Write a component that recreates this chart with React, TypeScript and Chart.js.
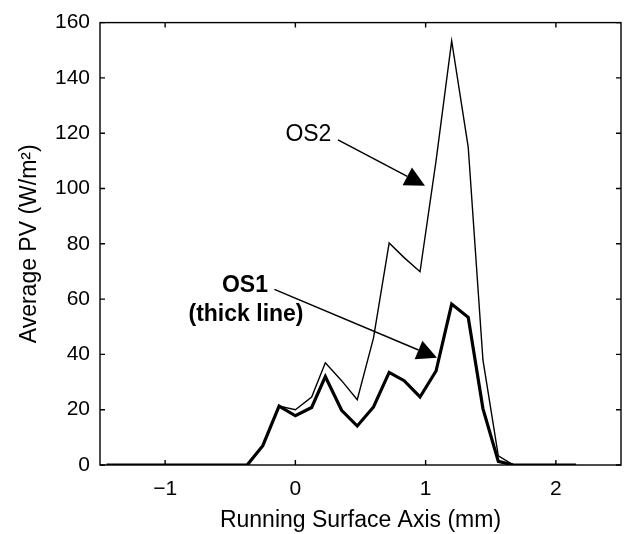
import React, { useEffect, useRef } from "react";
import { Chart, registerables } from "chart.js";

Chart.register(...registerables);

// Running surface axis positions (mm)
const xPositions = [-1.45, -0.37, -0.25, -0.125, 0.0, 0.125, 0.23, 0.355, 0.475, 0.6, 0.72, 0.835, 0.957, 1.08, 1.2, 1.327, 1.44, 1.558, 1.675, 2.155];
// OS1 (thick line) average PV (W/m^2)
const os1Values = [0, 0, 7, 21.3, 17.8, 20.8, 32, 19.8, 14.1, 21, 33.5, 30.5, 24.6, 34, 58.2, 53.4, 20.4, 1.3, 0, 0];
// OS2 (thin line) average PV (W/m^2)
const os2Values = [0, 0, 7, 21.3, 20, 24.6, 37, 30.5, 23.6, 46, 80.3, 75, 69.9, 110, 153.4, 115, 38, 3.3, 0, 0];

const xTickValues = [-1, 0, 1, 2];
const yTickValues = [0, 20, 40, 60, 80, 100, 120, 140, 160];

const xTitle = "Running Surface Axis (mm)";
const yTitle = "Average PV (W/m²)";

const FONT = "'Liberation Sans', Arial, Helvetica, sans-serif";

const frameAndAnnotations = {
  id: "frameAndAnnotations",
  afterDatasetsDraw(chart: any) {
    const { ctx, chartArea: a, scales } = chart;
    const x = scales.x;
    const y = scales.y;
    ctx.save();
    ctx.strokeStyle = "#000";
    ctx.fillStyle = "#000";
    ctx.lineWidth = 1.4;
    ctx.strokeRect(a.left, a.top, a.right - a.left, a.bottom - a.top);

    const tl = 5;
    ctx.beginPath();
    xTickValues.forEach((v) => {
      const px = x.getPixelForValue(v);
      ctx.moveTo(px, a.bottom);
      ctx.lineTo(px, a.bottom - tl);
      ctx.moveTo(px, a.top);
      ctx.lineTo(px, a.top + tl);
    });
    yTickValues.forEach((v) => {
      const py = y.getPixelForValue(v);
      ctx.moveTo(a.left, py);
      ctx.lineTo(a.left + tl, py);
      ctx.moveTo(a.right, py);
      ctx.lineTo(a.right - tl, py);
    });
    ctx.stroke();

    const arrow = (x0: number, y0: number, x1: number, y1: number) => {
      const sx = x.getPixelForValue(x0);
      const sy = y.getPixelForValue(y0);
      const tx = x.getPixelForValue(x1);
      const ty = y.getPixelForValue(y1);
      const dx = tx - sx;
      const dy = ty - sy;
      const len = Math.hypot(dx, dy);
      const ux = dx / len;
      const uy = dy / len;
      const L = 20;
      const W = 10;
      const bx = tx - ux * L;
      const by = ty - uy * L;
      ctx.lineWidth = 1.5;
      ctx.beginPath();
      ctx.moveTo(sx, sy);
      ctx.lineTo(bx, by);
      ctx.stroke();
      ctx.beginPath();
      ctx.moveTo(tx, ty);
      ctx.lineTo(bx - uy * W, by + ux * W);
      ctx.lineTo(bx + uy * W, by - ux * W);
      ctx.closePath();
      ctx.fill();
    };

    const label = (text: string, vx: number, vy: number, bold: boolean) => {
      ctx.font = `${bold ? "bold " : ""}23px ${FONT}`;
      ctx.textAlign = "center";
      ctx.textBaseline = "middle";
      ctx.fillText(text, x.getPixelForValue(vx), y.getPixelForValue(vy));
    };

    label("OS2", 0.1, 119.3, false);
    arrow(0.327, 117.6, 0.995, 101);
    label("OS1", -0.387, 64.7, true);
    label("(thick line)", -0.379, 54.5, true);
    arrow(-0.161, 63.5, 1.087, 38.8);

    ctx.restore();
  },
};

export default function App() {
  const canvasRef = useRef<HTMLCanvasElement | null>(null);

  useEffect(() => {
    const canvas = canvasRef.current;
    if (!canvas) return;
    const chart = new Chart(canvas, {
      type: "line",
      data: {
        datasets: [
          {
            label: "OS2",
            data: xPositions.map((xv, i) => ({ x: xv, y: os2Values[i] })),
            borderColor: "#000",
            borderWidth: 1.4,
            pointRadius: 0,
            tension: 0,
            fill: false,
          },
          {
            label: "OS1",
            data: xPositions.map((xv, i) => ({ x: xv, y: os1Values[i] })),
            borderColor: "#000",
            borderWidth: 3.2,
            pointRadius: 0,
            tension: 0,
            fill: false,
          },
        ],
      },
      options: {
        animation: false,
        responsive: false,
        layout: { padding: { left: 0, top: 18, right: 7, bottom: 0 } },
        plugins: {
          legend: { display: false },
          tooltip: { enabled: false },
        },
        scales: {
          x: {
            type: "linear",
            min: -1.5,
            max: 2.5,
            grid: { display: false, drawTicks: false },
            border: { display: false },
            afterBuildTicks: (s: any) => {
              s.ticks = xTickValues.map((v) => ({ value: v }));
            },
            afterFit: (s: any) => {
              s.height = 69;
            },
            ticks: {
              padding: 12,
              color: "#000",
              font: { family: FONT, size: 21 },
              callback: (v: any) => (Number(v) < 0 ? "\u2212" + Math.abs(Number(v)) : String(v)),
            },
            title: {
              display: true,
              text: xTitle,
              color: "#000",
              font: { family: FONT, size: 23 },
              padding: { top: 0, bottom: 0 },
            },
          },
          y: {
            type: "linear",
            min: 0,
            max: 160,
            grid: { display: false, drawTicks: false },
            border: { display: false },
            afterBuildTicks: (s: any) => {
              s.ticks = yTickValues.map((v) => ({ value: v }));
            },
            afterFit: (s: any) => {
              s.width = 100;
            },
            ticks: {
              padding: 10,
              color: "#000",
              font: { family: FONT, size: 21 },
            },
            title: {
              display: true,
              text: yTitle,
              color: "#000",
              font: { family: FONT, size: 23 },
              padding: { top: 16, bottom: 0 },
            },
          },
        },
      },
      plugins: [frameAndAnnotations],
    } as any);
    return () => chart.destroy();
  }, []);

  return (
    <div style={{ position: "absolute", left: 0, top: 0, width: 628, height: 534, background: "#fff" }}>
      <canvas ref={canvasRef} width={628} height={534} />
    </div>
  );
}
